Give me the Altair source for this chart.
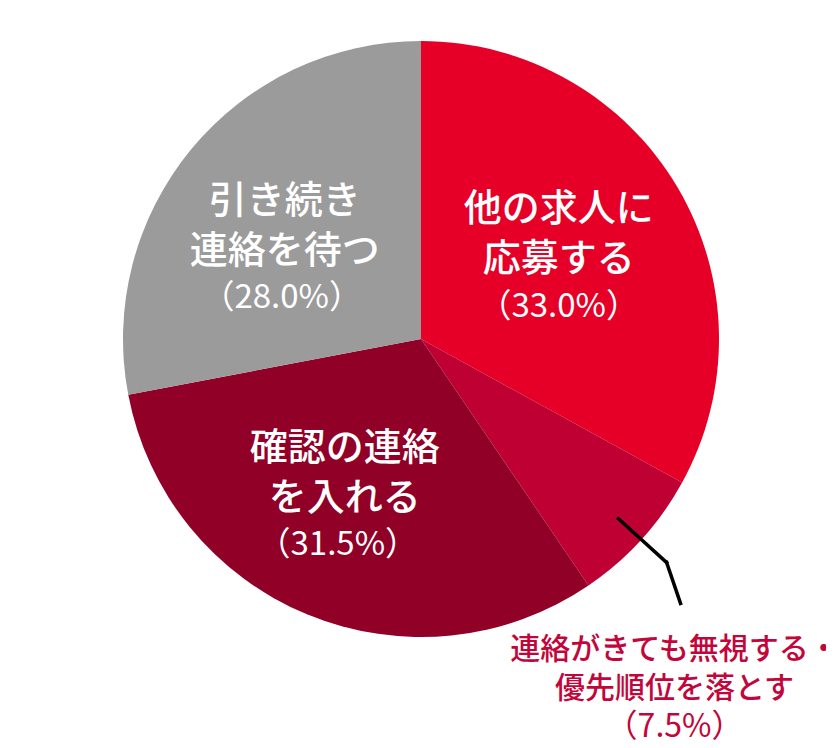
import altair as alt
import pandas as pd

# ---- data ----
categories = ["他の求人に応募する", "連絡がきても無視する・優先順位を落とす", "確認の連絡を入れる", "引き続き連絡を待つ"]
line1 = ["他の求人に", "連絡がきても無視する・", "確認の連絡", "引き続き"]
line2 = ["応募する", "優先順位を落とす", "を入れる", "連絡を待つ"]
values = [33.0, 7.5, 31.5, 28.0]
order = [0, 1, 2, 3]

# ---- styles ----
colors = ["#E60028", "#BE0033", "#910026", "#9B9B9B"]
CX, CY, R = 413, 331, 298
FONT = "Noto Sans CJK JP"

df = pd.DataFrame({"category": categories, "line1": line1, "line2": line2,
                   "value": values, "order": order})

base = alt.Chart(df).transform_window(
    cum="sum(value)", sort=[alt.SortField("order")], frame=[None, 0]
).transform_calculate(
    mid="datum.cum - datum.value / 2",
    label="datum.line1 + '\\n' + datum.line2",
    pct="'（' + format(datum.value, '.1f') + '%）'",
)

theta_scale = alt.Scale(domain=[0, 100])

arc = alt.Chart(df).mark_arc(radius=R, stroke=None).encode(
    theta=alt.Theta("value:Q", stack=True, scale=theta_scale),
    color=alt.Color("category:N", scale=alt.Scale(domain=categories, range=colors), legend=None),
    order=alt.Order("order:Q"),
    x=alt.value(CX), y=alt.value(CY),
)

# inside label placement styles: (category index, radius, dx, dy, pct dx, pct dy)
inside = [(0, 160, 0, -48, 0, 49), (3, 160, -13, -35, -16, 61), (2, 160, -15, -38, -22, 58)]

layers = [arc]
for idx, r, dx, dy, pdx, pdy in inside:
    cat = categories[idx]
    b = base.transform_filter(alt.datum.category == cat)
    layers.append(b.mark_text(radius=r, dx=dx, dy=dy, font=FONT, fontSize=38, fontWeight=500,
                              lineHeight=50, lineBreak="\n", color="white",
                              align="center", baseline="middle").encode(
        theta=alt.Theta("mid:Q", scale=theta_scale), text="label:N",
        x=alt.value(CX), y=alt.value(CY)))
    layers.append(b.mark_text(radius=r, dx=pdx, dy=pdy, font=FONT, fontSize=33,
                              color="white", align="center", baseline="middle").encode(
        theta=alt.Theta("mid:Q", scale=theta_scale), text="pct:N",
        x=alt.value(CX), y=alt.value(CY)))

# outside label for the small slice, with leader line
small = base.transform_filter(alt.datum.category == categories[1]).transform_calculate(
    ang="2 * PI * datum.mid / 100",
).transform_calculate(
    lx1=f"{CX} + 267 * sin(datum.ang)", ly1=f"{CY} - 267 * cos(datum.ang)",
    lx2=f"{CX} + 332 * sin(datum.ang)", ly2=f"{CY} - 332 * cos(datum.ang)",
).transform_calculate(
    lx3="datum.lx2 + 14", ly3="datum.ly2 + 41",
).transform_calculate(
    tx="datum.lx3 - 6", ty="datum.ly3 + 47", py="datum.ly3 + 124",
)

seg1 = small.mark_rule(color="black", strokeWidth=3.5, strokeCap="square").encode(
    x=alt.X("lx1:Q", scale=None, axis=None), y=alt.Y("ly1:Q", scale=None, axis=None),
    x2="lx2:Q", y2="ly2:Q")
seg2 = small.mark_rule(color="black", strokeWidth=3.5, strokeCap="square").encode(
    x=alt.X("lx2:Q", scale=None, axis=None), y=alt.Y("ly2:Q", scale=None, axis=None),
    x2="lx3:Q", y2="ly3:Q")
out_label = small.mark_text(font=FONT, fontSize=30, fontWeight=500, lineHeight=39, lineBreak="\n",
                            color="#C2063B", align="center", baseline="middle").encode(
    x=alt.X("tx:Q", scale=None, axis=None), y=alt.Y("ty:Q", scale=None, axis=None), text="label:N")
out_pct = small.mark_text(font=FONT, fontSize=32, color="#C2063B", align="center",
                          baseline="middle").encode(
    x=alt.X("tx:Q", scale=None, axis=None), y=alt.Y("py:Q", scale=None, axis=None), text="pct:N")

layers += [seg1, seg2, out_label, out_pct]

chart = alt.layer(*layers).properties(
    width=818, height=732, autosize=alt.AutoSizeParams(type="none"), padding=0,
).configure_view(stroke=None)

chart.save("out.html", embed_options={"renderer": "svg", "actions": False})
